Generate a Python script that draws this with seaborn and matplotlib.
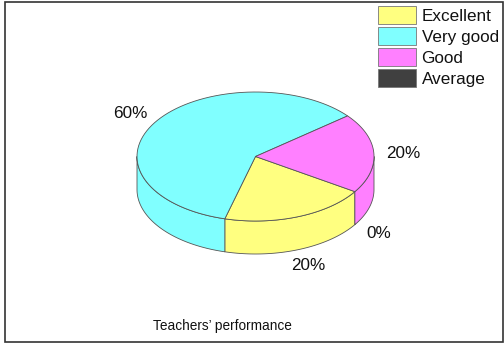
import numpy as np
import matplotlib
matplotlib.use("Agg")
import matplotlib.pyplot as plt
from matplotlib.patches import Polygon, Rectangle, Patch
import seaborn as sns

categories = ["Excellent", "Very good", "Good", "Average"]
values = [20, 60, 20, 0]
labels = ["20%", "60%", "20%", "0%"]
colors = ["#FFFF80", "#80FFFF", "#FF80FF", "#404040"]

sns.set_theme(style="white")
plt.rcParams["font.family"] = ["Liberation Sans", "DejaVu Sans"]
palette = sns.color_palette(colors)

EDGE = "#555555"
cx, cy, rx, ry, depth = 255.5, 156.5, 118.5, 64.5, 33
start = -33

fig = plt.figure(figsize=(5.04, 3.45), dpi=100)
ax = fig.add_axes([0, 0, 1, 1])
ax.set_xlim(0, 504)
ax.set_ylim(345, 0)
ax.axis("off")

ax.add_patch(Rectangle((5, 2), 498, 340, fill=False, ec="#333333", lw=1.2))


def rim(a0, a1, dy=0):
    t = np.radians(np.linspace(a0, a1, 80))
    return np.column_stack([cx + rx * np.cos(t), cy - ry * np.sin(t) + dy])


# slices run clockwise from the start angle
ends = start - np.cumsum(values) * 360 / sum(values)
begins = np.r_[start, ends[:-1]]

# side walls first, only the front half of the cake shows
for a0, a1, col in zip(begins, ends, palette):
    for low, high in [(-180, 0), (-540, -360)]:
        lo = max(a1, low)
        hi = min(a0, high)
        if hi > lo:
            wall = np.vstack([rim(hi, lo), rim(lo, hi, depth)])
            ax.add_patch(Polygon(wall, fc=col, ec=EDGE, lw=0.6, joinstyle="round"))

# top faces
for a0, a1, col in zip(begins, ends, palette):
    if a0 > a1:
        top = np.vstack([[cx, cy], rim(a0, a1)])
        ax.add_patch(Polygon(top, fc=col, ec=EDGE, lw=0.6, joinstyle="round"))

ax.text(308, 265, labels[0], fontsize=12.3, ha="center", va="center", color="#111111")
ax.text(130, 113, labels[1], fontsize=12.3, ha="center", va="center", color="#111111")
ax.text(403, 153, labels[2], fontsize=12.3, ha="center", va="center", color="#111111")
ax.text(379, 234, labels[3], fontsize=12.3, ha="center", va="center", color="#111111")

ax.text(222.5, 326, "Teachers\u2019 performance", fontsize=9.8, ha="center", va="center", color="#111111")

handles = [Patch(fc=c, ec="#777777", lw=0.6, label=n) for c, n in zip(palette, categories)]
ax.legend(
    handles=handles,
    loc="upper left",
    bbox_to_anchor=(378, 5.5),
    bbox_transform=ax.transData,
    frameon=False,
    fontsize=12.3,
    borderpad=0,
    borderaxespad=0,
    handlelength=2.25,
    handleheight=1.33,
    handletextpad=0.3,
    labelspacing=0.12,
    labelcolor="#111111",
)

fig.savefig("out.png", dpi=100)
